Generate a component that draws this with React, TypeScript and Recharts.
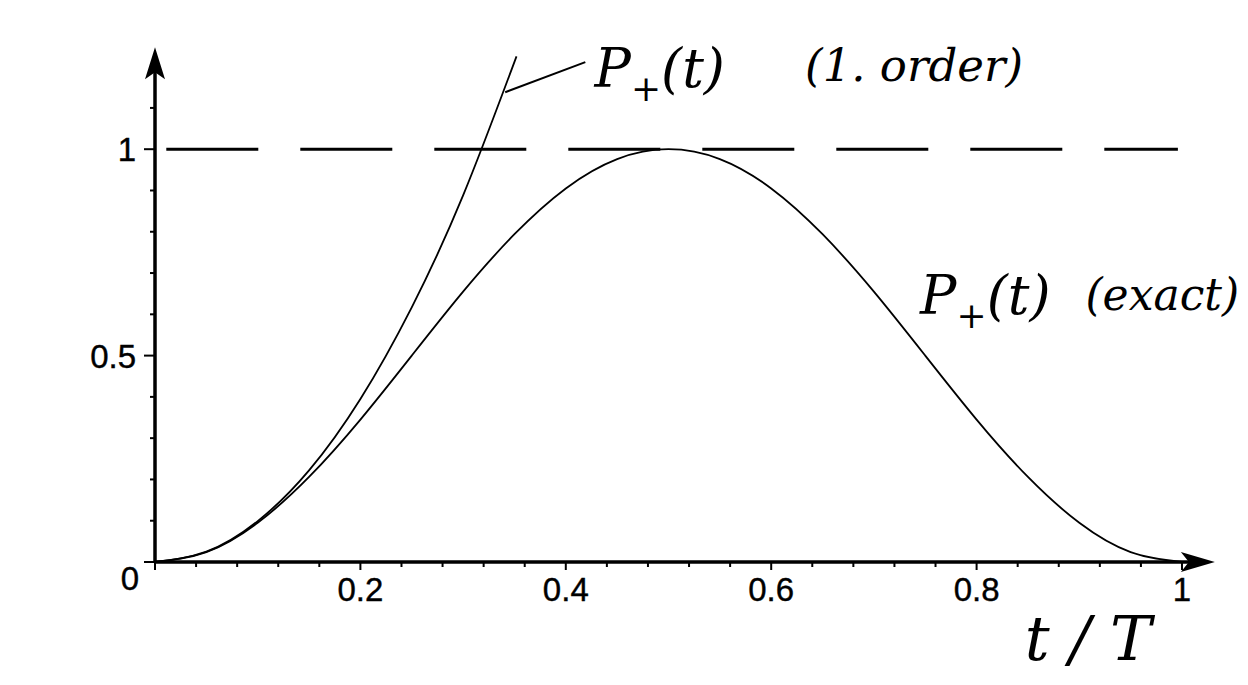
import { LineChart, Line, XAxis, YAxis, ReferenceLine, ReferenceDot } from 'recharts';

// t/T samples and P+(t) readings
const tExact = [0, 0.05, 0.1, 0.15, 0.2, 0.25, 0.3, 0.35, 0.4, 0.45, 0.5, 0.55, 0.6, 0.65, 0.7, 0.75, 0.8, 0.85, 0.9, 0.95, 1];
const pExact = [0, 0.024, 0.095, 0.206, 0.345, 0.5, 0.655, 0.794, 0.905, 0.976, 1, 0.976, 0.905, 0.794, 0.655, 0.5, 0.345, 0.206, 0.095, 0.024, 0];
const tFirst = [0, 0.05, 0.1, 0.15, 0.2, 0.25, 0.3, 0.352];
const pFirst = [0, 0.025, 0.099, 0.222, 0.395, 0.617, 0.888, 1.225];

const xTicks = [0, 0.04, 0.08, 0.12, 0.16, 0.2, 0.24, 0.28, 0.32, 0.36, 0.4, 0.44, 0.48, 0.52, 0.56, 0.6, 0.64, 0.68, 0.72, 0.76, 0.8, 0.84, 0.88, 0.92, 0.96, 1];
const xLabels = ['0', '0.2', '0.4', '0.6', '0.8', '1'];
const yTicks = [0, 0.1, 0.2, 0.3, 0.4, 0.5, 0.6, 0.7, 0.8, 0.9, 1, 1.1];
const yLabels = ['0.5', '1'];

const exactData = tExact.map((t, i) => ({ t, p: pExact[i] }));
const firstData = tFirst.map((t, i) => ({ t, p: pFirst[i] }));

const tickFont = '"Liberation Sans", Arial, sans-serif';
const handFont = '"DejaVu Serif", serif';

const XTick = (props: any) => {
    const { x, y, payload } = props
    const v = payload.value
    const label = xLabels.find(l => Math.abs(Number(l) - v) < 1e-6)
    const major = label !== undefined
    return <g>
        <line x1={x} x2={x} y1={y} y2={y + (major ? 8 : 5)} stroke="#000" strokeWidth={2} />
        {major && v !== 0 && <text x={x} y={y + 39} textAnchor="middle" fontFamily={tickFont} fontSize={33} fill="#000" stroke="#000" strokeWidth={0.4}>{label}</text>}
        {v === 0 && <text x={x - 25} y={y + 28} textAnchor="middle" fontFamily={tickFont} fontSize={33} fill="#000" stroke="#000" strokeWidth={0.4}>0</text>}
    </g>
}

const YTick = (props: any) => {
    const { x, y, payload } = props
    const v = payload.value
    const label = yLabels.find(l => Math.abs(Number(l) - v) < 1e-6)
    const major = label !== undefined || v === 0
    return <g>
        <line x1={x} x2={x - (major ? 11 : 5)} y1={y} y2={y} stroke="#000" strokeWidth={2} />
        {label && <text x={x - 19} y={y + 12} textAnchor="end" fontFamily={tickFont} fontSize={33} fill="#000" stroke="#000" strokeWidth={0.4}>{label}</text>}
    </g>
}

const handText = (main: string, rest: string) => (p: any) => (
    <text x={p.cx} y={p.cy} fontFamily={handFont} fontStyle="italic" fontSize={54} fill="#000">
        {main}
        <tspan fontSize={36} dy={14} fontStyle="normal">+</tspan>
        <tspan dy={-14}>{rest}</tspan>
    </text>
)

const plainHand = (s: string, size: number) => (p: any) => (
    <text x={p.cx} y={p.cy} fontFamily={handFont} fontStyle="italic" fontSize={size} fill="#000">{s}</text>
)

export default function App() {
    return <div style={{ position: 'absolute', left: 0, top: 0, width: 1248, height: 685, background: '#fff' }}>
        <LineChart width={1248} height={685} margin={{ top: 46, right: 66, bottom: 93, left: 95 }}>
            <XAxis type="number" dataKey="t" domain={[0, 1]} ticks={xTicks} interval={0}
                tick={<XTick />} tickLine={false} axisLine={false} tickSize={0} tickMargin={0} allowDataOverflow />
            <YAxis type="number" domain={[0, 1.25]} ticks={yTicks} interval={0}
                tick={<YTick />} tickLine={false} axisLine={false} tickSize={0} tickMargin={0} allowDataOverflow />

            <ReferenceLine segment={[{ x: 0.011, y: 1 }, { x: 0.996, y: 1 }]} stroke="#000" strokeWidth={3}
                strokeDasharray="92 42" ifOverflow="visible" />

            <Line data={exactData} dataKey="p" type="natural" stroke="#000" strokeWidth={1.8} dot={false} isAnimationActive={false} />
            <Line data={firstData} dataKey="p" type="natural" stroke="#000" strokeWidth={1.8} dot={false} isAnimationActive={false} />

            {/* axes with arrowheads */}
            <ReferenceLine segment={[{ x: 0, y: 0 }, { x: 1.02, y: 0 }]} stroke="#000" strokeWidth={3.5} ifOverflow="visible" />
            <ReferenceLine segment={[{ x: 0, y: 0 }, { x: 0, y: 1.2 }]} stroke="#000" strokeWidth={3.5} ifOverflow="visible" />
            <ReferenceDot x={1.032} y={0} ifOverflow="visible" shape={(p: any) =>
                <polygon points={`${p.cx},${p.cy} ${p.cx - 34},${p.cy - 10} ${p.cx - 26},${p.cy} ${p.cx - 34},${p.cy + 10}`} fill="#000" />} />
            <ReferenceDot x={0} y={1.247} ifOverflow="visible" shape={(p: any) =>
                <polygon points={`${p.cx},${p.cy} ${p.cx - 10},${p.cy + 32} ${p.cx},${p.cy + 25} ${p.cx + 10},${p.cy + 32}`} fill="#000" />} />

            {/* annotations */}
            <ReferenceLine segment={[{ x: 0.341, y: 1.138 }, { x: 0.419, y: 1.211 }]} stroke="#000" strokeWidth={2} ifOverflow="visible" />
            <ReferenceDot x={0.428} y={1.15} ifOverflow="visible" shape={handText('P', '(t)')} />
            <ReferenceDot x={0.633} y={1.165} ifOverflow="visible" shape={plainHand('(1. order)', 45)} />
            <ReferenceDot x={0.745} y={0.6} ifOverflow="visible" shape={handText('P', '(t)')} />
            <ReferenceDot x={0.906} y={0.61} ifOverflow="visible" shape={plainHand('(exact)', 44)} />
            <ReferenceDot x={0.847} y={-0.237} ifOverflow="visible" shape={plainHand('t / T', 62)} />
        </LineChart>
    </div>
}
